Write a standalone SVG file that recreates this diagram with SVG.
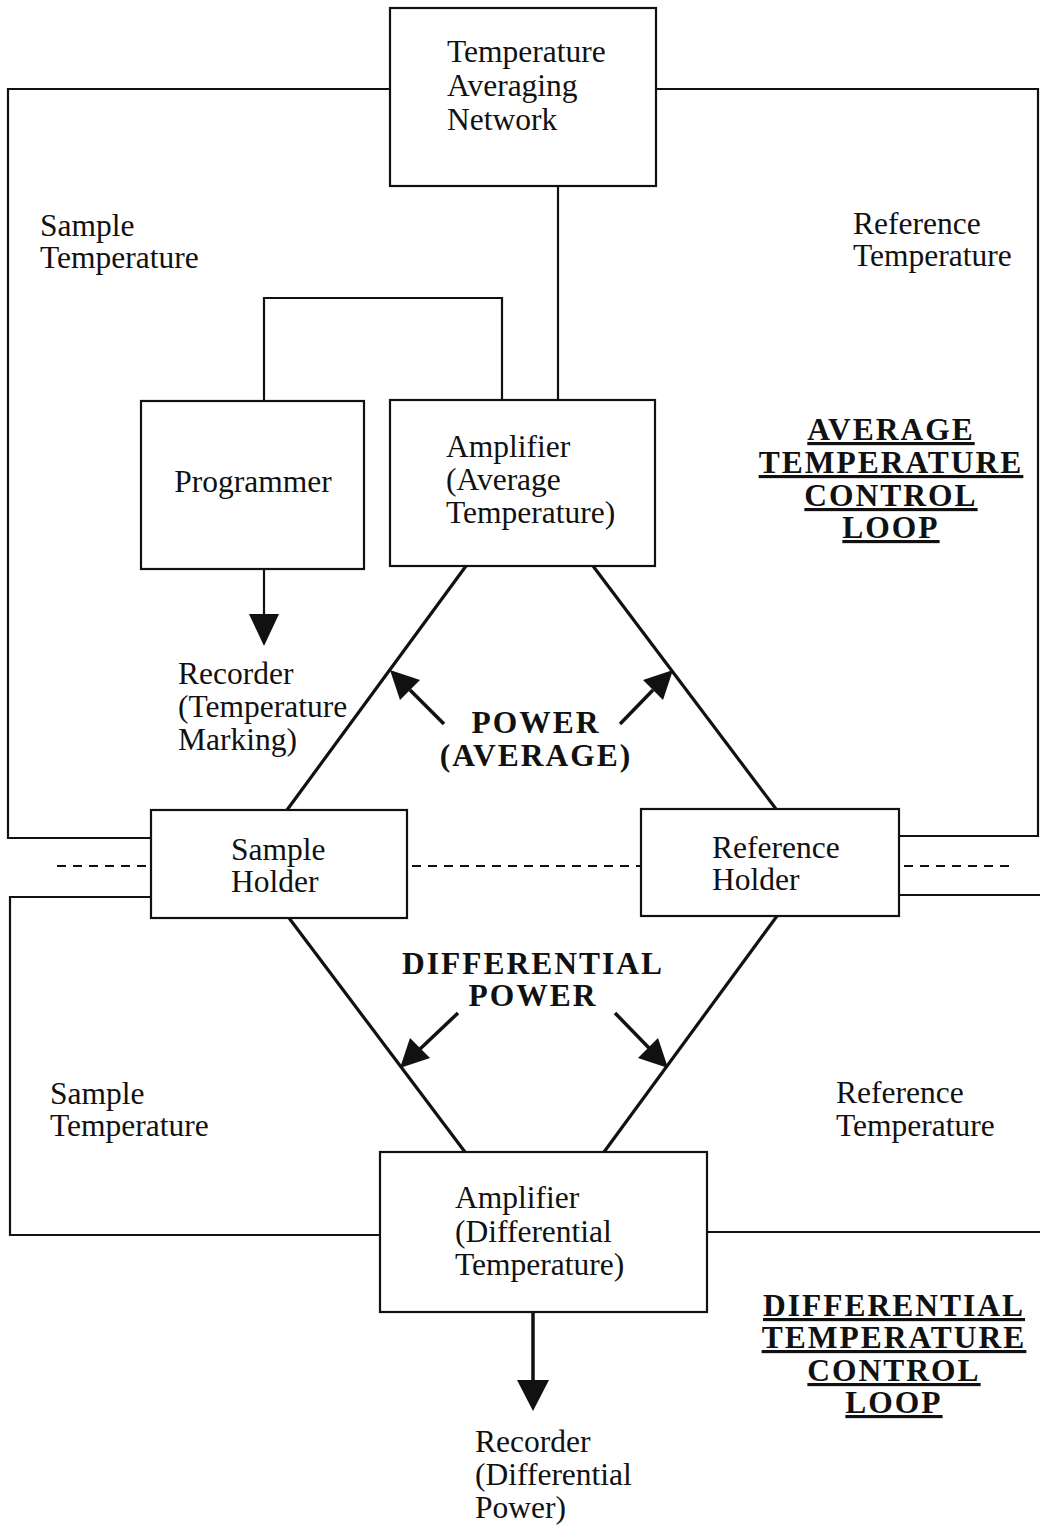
<svg xmlns="http://www.w3.org/2000/svg" width="1040" height="1535" viewBox="0 0 1040 1535">
<style>
.box{fill:#fff;stroke:#111;stroke-width:2.2}
.ln{fill:none;stroke:#111;stroke-width:2.2}
.dg{fill:none;stroke:#111;stroke-width:3.2}
.sh{fill:none;stroke:#111;stroke-width:3.5}
.ds{fill:none;stroke:#111;stroke-width:2.2;stroke-dasharray:9 7}
.t{font-family:"Liberation Serif","Times New Roman",serif;font-size:31.5px;fill:#111}
.b{font-family:"Liberation Serif","Times New Roman",serif;font-size:31.5px;font-weight:bold;fill:#111;letter-spacing:2px}
.u{text-decoration:underline}
</style>
<g id="connectors">
<polyline class="ln" points="390,89 8,89 8,838 151,838"/>
<polyline class="ln" points="656,89 1038,89 1038,836 899,836"/>
<polyline class="ln" points="899,895 1040,895"/>
<polyline class="ln" points="151,897 10,897 10,1235 380,1235"/>
<polyline class="ln" points="707,1232 1040,1232"/>
<line class="ln" x1="558" y1="186" x2="558" y2="400"/>
<polyline class="ln" points="264,401 264,298 502,298 502,400"/>
<line class="ds" x1="57" y1="866" x2="151" y2="866"/>
<line class="ds" x1="412" y1="866" x2="641" y2="866"/>
<line class="ds" x1="904" y1="866" x2="1010" y2="866"/>
<line class="dg" x1="466" y1="566" x2="287" y2="810"/>
<line class="dg" x1="593" y1="566" x2="776" y2="809"/>
<line class="dg" x1="289" y1="918" x2="465" y2="1152"/>
<line class="dg" x1="777" y1="916" x2="604" y2="1152"/>
<line class="ln" x1="264" y1="569" x2="264" y2="616"/>
<path d="M249,614 L279,614 L264,646 z" fill="#111"/>
<line class="sh" x1="533" y1="1312" x2="533" y2="1382"/>
<path d="M517,1380 L549,1380 L533,1411 z" fill="#111"/>
<line class="sh" x1="444" y1="724" x2="410" y2="690"/>
<path d="M390,670 L420,680 L400,700 z" fill="#111"/>
<line class="sh" x1="620" y1="724" x2="653" y2="690"/>
<path d="M673,670 L663,700 L643,680 z" fill="#111"/>
<line class="sh" x1="458" y1="1013" x2="420" y2="1049"/>
<path d="M400,1068 L410,1038 L430,1058 z" fill="#111"/>
<line class="sh" x1="615" y1="1013" x2="649" y2="1048"/>
<path d="M668,1068 L638,1058 L658,1038 z" fill="#111"/>
</g>
<g id="temp-avg-network">
<rect class="box" x="390" y="8" width="266" height="178"/>
<text class="t" x="447" y="62">Temperature</text>
<text class="t" x="447" y="96">Averaging</text>
<text class="t" x="447" y="130">Network</text>
</g>
<g id="programmer">
<rect class="box" x="141" y="401" width="223" height="168"/>
<text class="t" x="253" y="492" text-anchor="middle">Programmer</text>
</g>
<g id="amp-avg">
<rect class="box" x="390" y="400" width="265" height="166"/>
<text class="t" x="446" y="457">Amplifier</text>
<text class="t" x="446" y="490">(Average</text>
<text class="t" x="446" y="523">Temperature)</text>
</g>
<g id="recorder-temp">
<text class="t" x="178" y="684">Recorder</text>
<text class="t" x="178" y="717">(Temperature</text>
<text class="t" x="178" y="750">Marking)</text>
</g>
<g id="sample-holder">
<rect class="box" x="151" y="810" width="256" height="108"/>
<text class="t" x="231" y="860">Sample</text>
<text class="t" x="231" y="892">Holder</text>
</g>
<g id="reference-holder">
<rect class="box" x="641" y="809" width="258" height="107"/>
<text class="t" x="712" y="858">Reference</text>
<text class="t" x="712" y="890">Holder</text>
</g>
<g id="amp-diff">
<rect class="box" x="380" y="1152" width="327" height="160"/>
<text class="t" x="455" y="1208">Amplifier</text>
<text class="t" x="455" y="1242">(Differential</text>
<text class="t" x="455" y="1275">Temperature)</text>
</g>
<g id="recorder-diff">
<text class="t" x="475" y="1452">Recorder</text>
<text class="t" x="475" y="1485">(Differential</text>
<text class="t" x="475" y="1518">Power)</text>
</g>
<g id="labels">
<text class="t" x="40" y="236">Sample</text>
<text class="t" x="40" y="268">Temperature</text>
<text class="t" x="853" y="234">Reference</text>
<text class="t" x="853" y="266">Temperature</text>
<text class="t" x="50" y="1104">Sample</text>
<text class="t" x="50" y="1136">Temperature</text>
<text class="t" x="836" y="1103">Reference</text>
<text class="t" x="836" y="1136">Temperature</text>
<text class="b" x="536" y="733" text-anchor="middle">POWER</text>
<text class="b" x="536" y="766" text-anchor="middle">(AVERAGE)</text>
<text class="b" x="533" y="974" text-anchor="middle">DIFFERENTIAL</text>
<text class="b" x="533" y="1006" text-anchor="middle">POWER</text>
<text class="b u" x="891" y="440" text-anchor="middle">AVERAGE</text>
<text class="b u" x="891" y="473" text-anchor="middle">TEMPERATURE</text>
<text class="b u" x="891" y="506" text-anchor="middle">CONTROL</text>
<text class="b u" x="891" y="538" text-anchor="middle">LOOP</text>
<text class="b u" x="894" y="1316" text-anchor="middle">DIFFERENTIAL</text>
<text class="b u" x="894" y="1348" text-anchor="middle">TEMPERATURE</text>
<text class="b u" x="894" y="1381" text-anchor="middle">CONTROL</text>
<text class="b u" x="894" y="1413" text-anchor="middle">LOOP</text>
</g>
</svg>
